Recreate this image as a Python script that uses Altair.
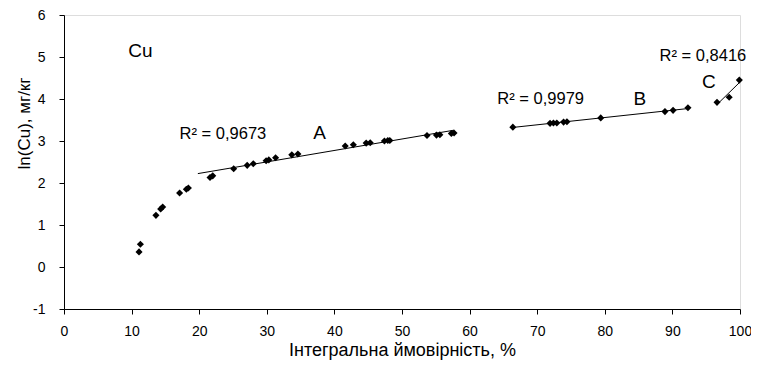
import altair as alt
import pandas as pd

# Points without a trend line (low tail)
x_other = [11.1, 11.3, 13.6, 14.3, 14.6, 17.1, 18.1, 18.4]
y_other = [0.36, 0.54, 1.23, 1.38, 1.43, 1.76, 1.85, 1.88]

# Population A
x_a = [21.6, 22.0, 25.1, 27.1, 28.0, 29.9, 30.3, 31.3, 33.7, 34.6, 41.6, 42.8,
       44.7, 45.3, 47.4, 47.9, 48.2, 53.7, 55.1, 55.6, 57.3, 57.7]
y_a = [2.13, 2.17, 2.34, 2.42, 2.46, 2.53, 2.55, 2.60, 2.67, 2.69, 2.88, 2.91,
       2.95, 2.96, 3.00, 3.01, 3.01, 3.13, 3.14, 3.15, 3.18, 3.19]

# Population B
x_b = [66.4, 71.9, 72.4, 72.9, 73.9, 74.4, 79.4, 88.9, 90.1, 92.3]
y_b = [3.33, 3.42, 3.43, 3.43, 3.45, 3.46, 3.55, 3.70, 3.73, 3.79]

# Population C
x_c = [96.6, 98.4, 99.9]
y_c = [3.92, 4.04, 4.45]

# Trend line extents (x range of each fitted line)
extent_a = [19.8, 57.7]
extent_b = [66.4, 92.3]
extent_c = [96.6, 99.9]

# Annotations
r2_text = ["R² = 0,9673", "R² = 0,9979", "R² = 0,8416"]
r2_x = [17.1, 64.1, 88.1]
r2_y = [3.17, 4.0, 5.02]

lbl_text = ["Cu", "A", "B", "C"]
lbl_x = [11.3, 37.8, 85.2, 95.4]
lbl_y = [5.14, 3.19, 4.0, 4.41]

x_ticks = list(range(0, 101, 10))
y_ticks = list(range(-1, 7))

FONT = "Liberation Sans"

df_all = pd.DataFrame({"x": x_other + x_a + x_b + x_c,
                       "y": y_other + y_a + y_b + y_c})
df_a = pd.DataFrame({"x": x_a, "y": y_a})
df_b = pd.DataFrame({"x": x_b, "y": y_b})
df_c = pd.DataFrame({"x": x_c, "y": y_c})
df_r2 = pd.DataFrame({"x": r2_x, "y": r2_y, "t": r2_text})
df_lbl = pd.DataFrame({"x": lbl_x, "y": lbl_y, "t": lbl_text})

xscale = alt.Scale(domain=[0, 100], nice=False, zero=False)
yscale = alt.Scale(domain=[-1, 6], nice=False, zero=False)

common_axis = dict(grid=False, domainColor="black", domainWidth=1,
                   tickColor="black", tickWidth=1, tickSize=5,
                   labelColor="black", labelFont=FONT, labelFontSize=14,
                   labelExpr="datum.value + ''",
                   titleColor="black", titleFont=FONT, titleFontWeight="normal")

xaxis = alt.Axis(values=x_ticks, title="Інтегральна ймовірність, %",
                 titleFontSize=18, labelPadding=10, titlePadding=3,
                 labelFlush=False, **common_axis)
yaxis = alt.Axis(values=y_ticks, title="ln(Cu), мг/кг", titleFontSize=17,
                 labelPadding=14, titleAngle=-90, titleX=-40, titleY=108,
                 titleAlign="center", titleBaseline="middle", **common_axis)

points = alt.Chart(df_all).mark_point(
    shape="diamond", filled=True, color="black", size=50, opacity=1
).encode(
    x=alt.X("x:Q", scale=xscale, axis=xaxis),
    y=alt.Y("y:Q", scale=yscale, axis=yaxis),
)


def trend(df, ext):
    return alt.Chart(df).transform_regression(
        "x", "y", extent=ext
    ).mark_line(color="black", strokeWidth=1).encode(
        x=alt.X("x:Q", scale=xscale),
        y=alt.Y("y:Q", scale=yscale),
    )


r2 = alt.Chart(df_r2).mark_text(
    align="left", baseline="middle", font=FONT, fontSize=16.5, color="black"
).encode(x=alt.X("x:Q", scale=xscale), y=alt.Y("y:Q", scale=yscale), text="t:N")

lbls = alt.Chart(df_lbl).mark_text(
    align="center", baseline="middle", font=FONT, fontSize=19, color="black"
).encode(x=alt.X("x:Q", scale=xscale), y=alt.Y("y:Q", scale=yscale), text="t:N")

chart = alt.layer(
    points, trend(df_a, extent_a), trend(df_b, extent_b), trend(df_c, extent_c), r2, lbls
).properties(
    width=676, height=294,
    autosize=alt.AutoSizeParams(type="none"),
    padding={"left": 56, "top": 7, "right": 11, "bottom": 59},
).configure_view(stroke=None).configure(font=FONT, background="white")

chart.save("out.html", embed_options={"renderer": "svg", "actions": False})
